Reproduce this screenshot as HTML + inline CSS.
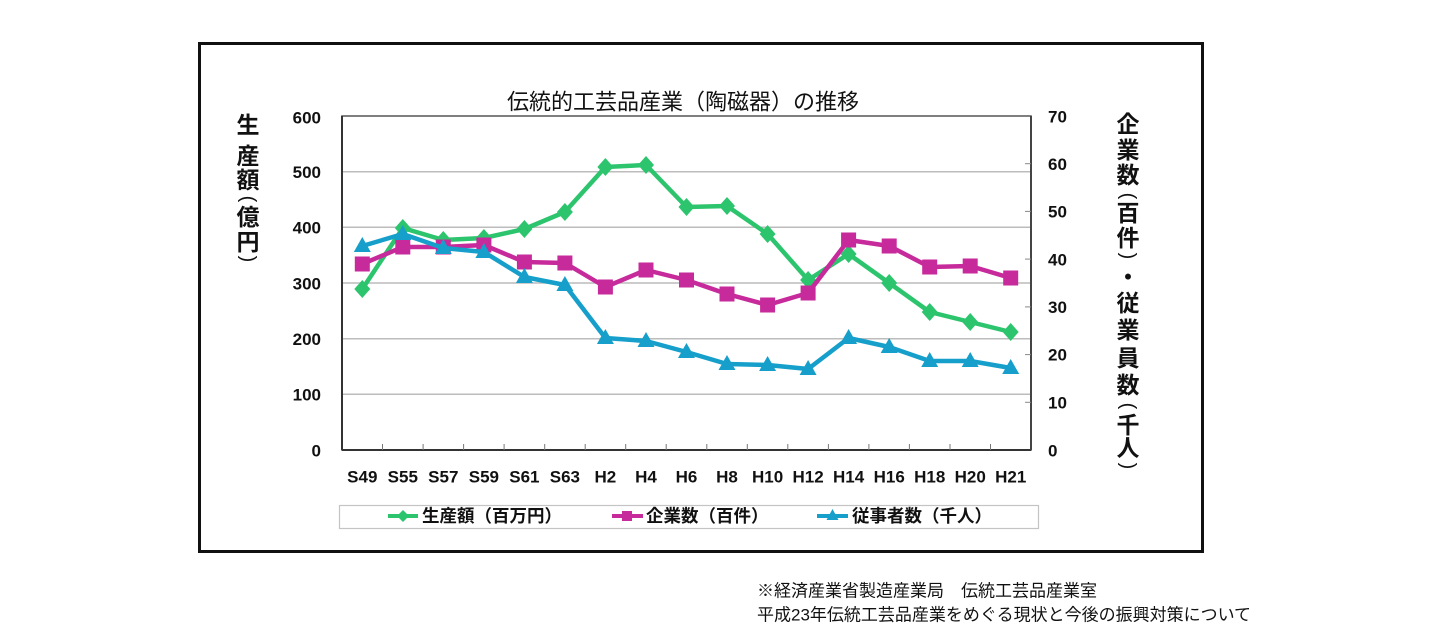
<!DOCTYPE html>
<html>
<head>
<meta charset="utf-8">
<style>
html,body{margin:0;padding:0;background:#fff;}
svg{display:block;}
text{font-family:"Liberation Sans","Noto Sans CJK JP",sans-serif;fill:#111;}
</style>
</head>
<body>
<svg width="1440" height="641" viewBox="0 0 1440 641" xmlns="http://www.w3.org/2000/svg">
  <!-- outer frame -->
  <rect x="199.5" y="43.5" width="1003" height="508" fill="none" stroke="#111" stroke-width="3"/>

  <!-- title -->
  <text x="683" y="102" font-size="22" text-anchor="middle" dominant-baseline="central">伝統的工芸品産業（陶磁器）の推移</text>

  <!-- gridlines -->
  <g stroke="#bcbcbc" stroke-width="1.5">
    <line x1="342" y1="171.7" x2="1031" y2="171.7"/>
    <line x1="342" y1="227.3" x2="1031" y2="227.3"/>
    <line x1="342" y1="283" x2="1031" y2="283"/>
    <line x1="342" y1="338.7" x2="1031" y2="338.7"/>
    <line x1="342" y1="394.3" x2="1031" y2="394.3"/>
  </g>
  <!-- plot border -->
  <rect x="342" y="116" width="689" height="334" fill="none" stroke="#555" stroke-width="1.5"/>
  <line x1="342" y1="116" x2="342" y2="450" stroke="#333" stroke-width="2"/>
  <line x1="342" y1="450" x2="1031" y2="450" stroke="#333" stroke-width="2"/>
  <line x1="1031" y1="116" x2="1031" y2="450" stroke="#444" stroke-width="2"/>

  <!-- x ticks -->
  <g stroke="#777" stroke-width="1">
    <line x1="382.5" y1="444" x2="382.5" y2="450"/>
    <line x1="423.1" y1="444" x2="423.1" y2="450"/>
    <line x1="463.6" y1="444" x2="463.6" y2="450"/>
    <line x1="504.1" y1="444" x2="504.1" y2="450"/>
    <line x1="544.7" y1="444" x2="544.7" y2="450"/>
    <line x1="585.2" y1="444" x2="585.2" y2="450"/>
    <line x1="625.7" y1="444" x2="625.7" y2="450"/>
    <line x1="666.2" y1="444" x2="666.2" y2="450"/>
    <line x1="706.8" y1="444" x2="706.8" y2="450"/>
    <line x1="747.3" y1="444" x2="747.3" y2="450"/>
    <line x1="787.8" y1="444" x2="787.8" y2="450"/>
    <line x1="828.4" y1="444" x2="828.4" y2="450"/>
    <line x1="868.9" y1="444" x2="868.9" y2="450"/>
    <line x1="909.4" y1="444" x2="909.4" y2="450"/>
    <line x1="950" y1="444" x2="950" y2="450"/>
    <line x1="990.5" y1="444" x2="990.5" y2="450"/>
  </g>
  <!-- right axis ticks -->
  <g stroke="#888" stroke-width="1">
    <line x1="1025" y1="163.7" x2="1031" y2="163.7"/>
    <line x1="1025" y1="211.4" x2="1031" y2="211.4"/>
    <line x1="1025" y1="259.1" x2="1031" y2="259.1"/>
    <line x1="1025" y1="306.9" x2="1031" y2="306.9"/>
    <line x1="1025" y1="354.6" x2="1031" y2="354.6"/>
    <line x1="1025" y1="402.3" x2="1031" y2="402.3"/>
  </g>

  <!-- left tick labels -->
  <g font-size="17" font-weight="bold" text-anchor="end">
    <text x="321" y="118" dominant-baseline="central">600</text>
    <text x="321" y="172.5" dominant-baseline="central">500</text>
    <text x="321" y="228" dominant-baseline="central">400</text>
    <text x="321" y="284" dominant-baseline="central">300</text>
    <text x="321" y="339.5" dominant-baseline="central">200</text>
    <text x="321" y="395" dominant-baseline="central">100</text>
    <text x="321" y="451" dominant-baseline="central">0</text>
  </g>
  <!-- right tick labels -->
  <g font-size="17" font-weight="bold" text-anchor="start">
    <text x="1048" y="117" dominant-baseline="central">70</text>
    <text x="1048" y="164.5" dominant-baseline="central">60</text>
    <text x="1048" y="212" dominant-baseline="central">50</text>
    <text x="1048" y="260" dominant-baseline="central">40</text>
    <text x="1048" y="307.5" dominant-baseline="central">30</text>
    <text x="1048" y="355" dominant-baseline="central">20</text>
    <text x="1048" y="403" dominant-baseline="central">10</text>
    <text x="1048" y="451" dominant-baseline="central">0</text>
  </g>

  <!-- x labels -->
  <g font-size="17" font-weight="bold" text-anchor="middle">
    <text x="362.3" y="477" dominant-baseline="central">S49</text>
    <text x="402.8" y="477" dominant-baseline="central">S55</text>
    <text x="443.3" y="477" dominant-baseline="central">S57</text>
    <text x="483.9" y="477" dominant-baseline="central">S59</text>
    <text x="524.4" y="477" dominant-baseline="central">S61</text>
    <text x="564.9" y="477" dominant-baseline="central">S63</text>
    <text x="605.4" y="477" dominant-baseline="central">H2</text>
    <text x="646" y="477" dominant-baseline="central">H4</text>
    <text x="686.5" y="477" dominant-baseline="central">H6</text>
    <text x="727" y="477" dominant-baseline="central">H8</text>
    <text x="767.6" y="477" dominant-baseline="central">H10</text>
    <text x="808.1" y="477" dominant-baseline="central">H12</text>
    <text x="848.6" y="477" dominant-baseline="central">H14</text>
    <text x="889.2" y="477" dominant-baseline="central">H16</text>
    <text x="929.7" y="477" dominant-baseline="central">H18</text>
    <text x="970.2" y="477" dominant-baseline="central">H20</text>
    <text x="1010.7" y="477" dominant-baseline="central">H21</text>
  </g>

  <!-- left axis title (vertical) -->
  <g font-size="23" font-weight="bold" text-anchor="middle">
    <text x="248" y="125" dominant-baseline="central">生</text>
    <text x="248" y="156" dominant-baseline="central">産</text>
    <text x="248" y="180" dominant-baseline="central">額</text>
    <text x="248" y="199" dominant-baseline="central" font-size="20" font-weight="normal" transform="rotate(90 248 199)">(</text>
    <text x="248" y="217" dominant-baseline="central">億</text>
    <text x="248" y="242" dominant-baseline="central">円</text>
    <text x="248" y="259" dominant-baseline="central" font-size="20" font-weight="normal" transform="rotate(90 248 259)">)</text>
  </g>

  <!-- right axis title (vertical) -->
  <g font-size="23" font-weight="bold" text-anchor="middle">
    <text x="1128" y="124" dominant-baseline="central">企</text>
    <text x="1128" y="150" dominant-baseline="central">業</text>
    <text x="1128" y="175" dominant-baseline="central">数</text>
    <text x="1128" y="196" dominant-baseline="central" font-size="20" font-weight="normal" transform="rotate(90 1128 196)">(</text>
    <text x="1128" y="213" dominant-baseline="central">百</text>
    <text x="1128" y="238" dominant-baseline="central">件</text>
    <text x="1128" y="256" dominant-baseline="central" font-size="20" font-weight="normal" transform="rotate(90 1128 256)">)</text>
    <text x="1128" y="277" dominant-baseline="central">・</text>
    <text x="1128" y="303" dominant-baseline="central">従</text>
    <text x="1128" y="330" dominant-baseline="central">業</text>
    <text x="1128" y="358" dominant-baseline="central">員</text>
    <text x="1128" y="385" dominant-baseline="central">数</text>
    <text x="1128" y="406" dominant-baseline="central" font-size="20" font-weight="normal" transform="rotate(90 1128 406)">(</text>
    <text x="1128" y="425" dominant-baseline="central">千</text>
    <text x="1128" y="448" dominant-baseline="central">人</text>
    <text x="1128" y="466" dominant-baseline="central" font-size="20" font-weight="normal" transform="rotate(90 1128 466)">)</text>
  </g>

  <!-- green series: 生産額 -->
  <g fill="#2dc46e" stroke="none">
    <polyline fill="none" stroke="#2dc46e" stroke-width="4.5" stroke-linejoin="round"
      points="362.3,289 402.8,228 443.3,240 483.9,238 524.4,229 564.9,212 605.4,167 646,165 686.5,207 727,206 767.6,234 808.1,280 848.6,254 889.2,283 929.7,312 970.2,322 1010.7,332"/>
    <polygon points="362.3,280 370.3,289 362.3,298 354.3,289"/>
    <polygon points="402.8,219 410.8,228 402.8,237 394.8,228"/>
    <polygon points="443.3,231 451.3,240 443.3,249 435.3,240"/>
    <polygon points="483.9,229 491.9,238 483.9,247 475.9,238"/>
    <polygon points="524.4,220 532.4,229 524.4,238 516.4,229"/>
    <polygon points="564.9,203 572.9,212 564.9,221 556.9,212"/>
    <polygon points="605.4,158 613.4,167 605.4,176 597.4,167"/>
    <polygon points="646,156 654,165 646,174 638,165"/>
    <polygon points="686.5,198 694.5,207 686.5,216 678.5,207"/>
    <polygon points="727,197 735,206 727,215 719,206"/>
    <polygon points="767.6,225 775.6,234 767.6,243 759.6,234"/>
    <polygon points="808.1,271 816.1,280 808.1,289 800.1,280"/>
    <polygon points="848.6,245 856.6,254 848.6,263 840.6,254"/>
    <polygon points="889.2,274 897.2,283 889.2,292 881.2,283"/>
    <polygon points="929.7,303 937.7,312 929.7,321 921.7,312"/>
    <polygon points="970.2,313 978.2,322 970.2,331 962.2,322"/>
    <polygon points="1010.7,323 1018.7,332 1010.7,341 1002.7,332"/>
  </g>

  <!-- magenta series: 企業数 -->
  <g fill="#c72a9b">
    <polyline fill="none" stroke="#c72a9b" stroke-width="4.5" stroke-linejoin="round"
      points="362.3,264 402.8,247 443.3,247 483.9,245 524.4,262 564.9,263 605.4,287 646,270 686.5,280 727,294 767.6,305 808.1,293 848.6,240 889.2,246 929.7,267 970.2,266 1010.7,278"/>
    <rect x="354.8" y="256.5" width="15" height="15"/>
    <rect x="395.3" y="239.5" width="15" height="15"/>
    <rect x="435.8" y="239.5" width="15" height="15"/>
    <rect x="476.4" y="237.5" width="15" height="15"/>
    <rect x="516.9" y="254.5" width="15" height="15"/>
    <rect x="557.4" y="255.5" width="15" height="15"/>
    <rect x="597.9" y="279.5" width="15" height="15"/>
    <rect x="638.5" y="262.5" width="15" height="15"/>
    <rect x="679" y="272.5" width="15" height="15"/>
    <rect x="719.5" y="286.5" width="15" height="15"/>
    <rect x="760.1" y="297.5" width="15" height="15"/>
    <rect x="800.6" y="285.5" width="15" height="15"/>
    <rect x="841.1" y="232.5" width="15" height="15"/>
    <rect x="881.7" y="238.5" width="15" height="15"/>
    <rect x="922.2" y="259.5" width="15" height="15"/>
    <rect x="962.7" y="258.5" width="15" height="15"/>
    <rect x="1003.2" y="270.5" width="15" height="15"/>
  </g>

  <!-- blue series: 従事者数 -->
  <g fill="#159fca">
    <polyline fill="none" stroke="#159fca" stroke-width="4.5" stroke-linejoin="round"
      points="362.3,246 402.8,234 443.3,248 483.9,252 524.4,277 564.9,285 605.4,338 646,341 686.5,352 727,364 767.6,365 808.1,369 848.6,338 889.2,347 929.7,361 970.2,361 1010.7,368"/>
    <polygon points="362.3,237 370.8,252 353.8,252"/>
    <polygon points="402.8,225 411.3,240 394.3,240"/>
    <polygon points="443.3,239 451.8,254 434.8,254"/>
    <polygon points="483.9,243 492.4,258 475.4,258"/>
    <polygon points="524.4,268 532.9,283 515.9,283"/>
    <polygon points="564.9,276 573.4,291 556.4,291"/>
    <polygon points="605.4,329 613.9,344 596.9,344"/>
    <polygon points="646,332 654.5,347 637.5,347"/>
    <polygon points="686.5,343 695,358 678,358"/>
    <polygon points="727,355 735.5,370 718.5,370"/>
    <polygon points="767.6,356 776.1,371 759.1,371"/>
    <polygon points="808.1,360 816.6,375 799.6,375"/>
    <polygon points="848.6,329 857.1,344 840.1,344"/>
    <polygon points="889.2,338 897.7,353 880.7,353"/>
    <polygon points="929.7,352 938.2,367 921.2,367"/>
    <polygon points="970.2,352 978.7,367 961.7,367"/>
    <polygon points="1010.7,359 1019.2,374 1002.2,374"/>
  </g>

  <!-- legend -->
  <rect x="339.5" y="505.5" width="699" height="23" fill="#fff" stroke="#c4c4c4" stroke-width="1.2"/>
  <g font-size="17.5" font-weight="bold">
    <line x1="388" y1="516" x2="418" y2="516" stroke="#2dc46e" stroke-width="4"/>
    <polygon points="403,510 409,516 403,522 397,516" fill="#2dc46e"/>
    <text x="422" y="516" dominant-baseline="central">生産額（百万円）</text>

    <line x1="612" y1="516" x2="643" y2="516" stroke="#c72a9b" stroke-width="4"/>
    <rect x="622" y="511" width="10" height="10" fill="#c72a9b"/>
    <text x="646" y="516" dominant-baseline="central">企業数（百件）</text>

    <line x1="817" y1="516" x2="848" y2="516" stroke="#159fca" stroke-width="4"/>
    <polygon points="832.5,509 838.5,520 826.5,520" fill="#159fca"/>
    <text x="852" y="516" dominant-baseline="central">従事者数（千人）</text>
  </g>

  <!-- footnote -->
  <g font-size="17">
    <text x="757" y="591" dominant-baseline="central">※経済産業省製造産業局　伝統工芸品産業室</text>
    <text x="757" y="615" dominant-baseline="central">平成23年伝統工芸品産業をめぐる現状と今後の振興対策について</text>
  </g>
</svg>
</body>
</html>
